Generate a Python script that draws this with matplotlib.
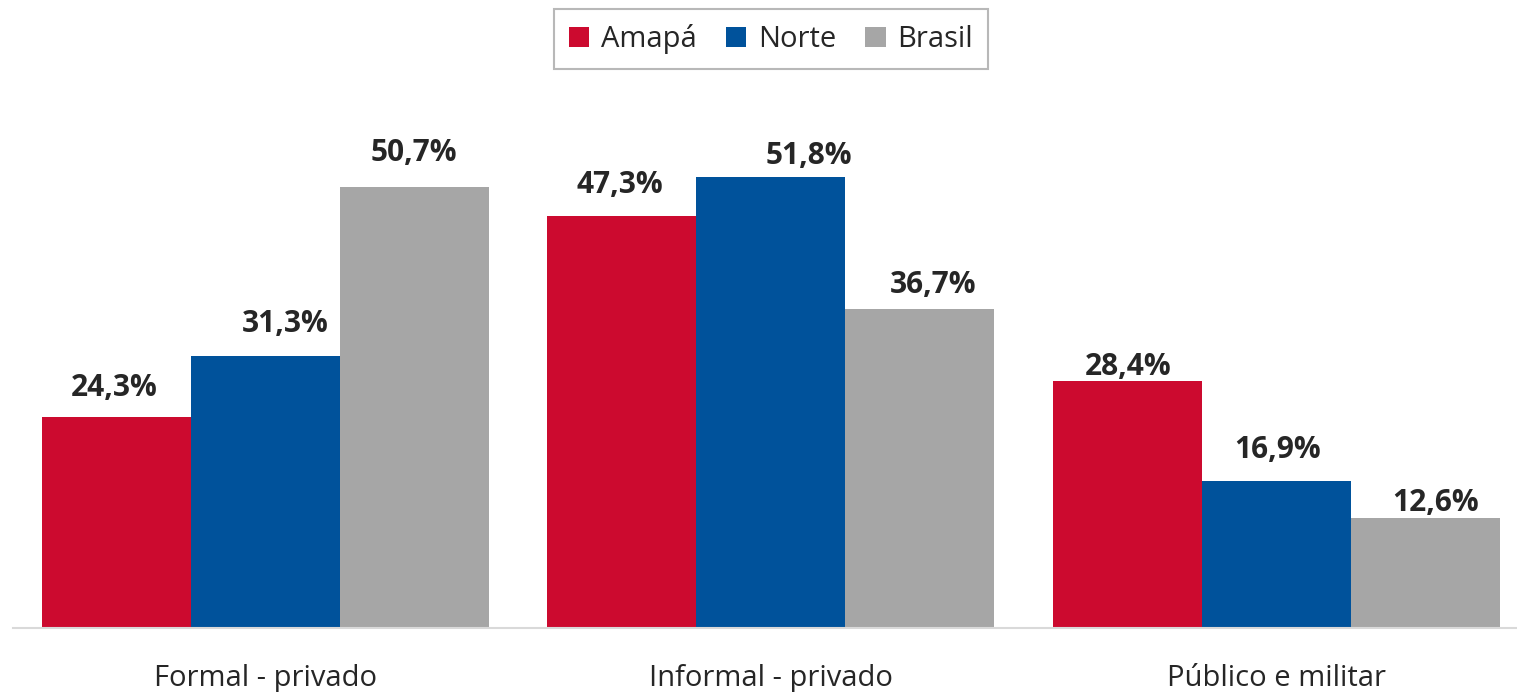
import numpy as np
import matplotlib.pyplot as plt

categorias = ['Formal - privado', 'Informal - privado', 'Público e militar']
amapa = [24.3, 47.3, 28.4]
norte = [31.3, 51.8, 16.9]
brasil = [50.7, 36.7, 12.6]

series = ['Amapá', 'Norte', 'Brasil']
cores = ['#CC0A2F', '#00529B', '#A6A6A6']

# label nudges in pixels (dx, gap between baseline and bar top), as placed in the original
ajustes = [
    [(-2, 21), (-2, 23), (1, 6)],      # Amapá
    [(20, 24), (38, 13), (1, 23)],     # Norte
    [(0, 26), (13, 16), (10, 7)],      # Brasil
]

plt.rcParams['font.family'] = ['Open Sans', 'DejaVu Sans']

W, H = 1517, 692
fig = plt.figure(figsize=(W / 100, H / 100), dpi=100)

# axes placed in pixel terms: baseline at y=628, left edge at x=13
base_px = 628
top_px = 90
ax = fig.add_axes([13 / W, (H - base_px) / H, 1 - 13 / W, (base_px - top_px) / H])

px_per_unit = 505.7
px_per_pct = 8.7
ax.set_xlim(-252 / px_per_unit, 2 + (W - 1276.5) / px_per_unit)
ax.set_ylim(0, (base_px - top_px) / px_per_pct)

x = np.arange(len(categorias))
largura = 149 / px_per_unit

for i, (nome, vals, cor) in enumerate(zip(series, [amapa, norte, brasil], cores)):
    pos = x + (i - 1) * largura
    bars = ax.bar(pos, vals, largura, color=cor, label=nome)
    for b, v, (dx, dy) in zip(bars, vals, ajustes[i]):
        ax.annotate(f'{v:.1f}%'.replace('.', ','),
                    (b.get_x() + b.get_width() / 2, v),
                    xytext=(dx * 0.72, dy * 0.72), textcoords='offset points',
                    ha='center', va='baseline', fontsize=21.5, fontweight='bold',
                    color='#262626')

for s in ['top', 'right', 'left']:
    ax.spines[s].set_visible(False)
ax.spines['bottom'].set_color('#D9D9D9')
ax.spines['bottom'].set_linewidth(1.5)
ax.set_yticks([])
ax.set_xticks(x)
ax.set_xticklabels(categorias, fontsize=21, color='#262626')
ax.tick_params(axis='x', length=0, pad=26)

leg = fig.legend(loc='center', bbox_to_anchor=(771 / W, 1 - 39 / H), ncol=3,
                 fontsize=21, frameon=True, fancybox=False, edgecolor='#A6A6A6',
                 handlelength=0.7, handleheight=0.7, handletextpad=0.4,
                 columnspacing=1.0, borderpad=0.5, borderaxespad=0)
leg.get_frame().set_linewidth(1.5)
for t in leg.get_texts():
    t.set_color('#262626')

fig.savefig('out.png', dpi=100)
